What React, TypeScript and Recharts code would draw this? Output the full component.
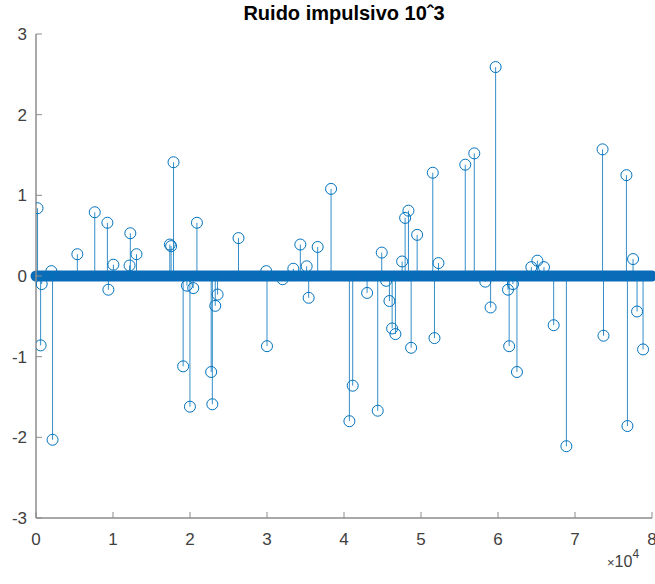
import React from "react";
import { ScatterChart, Scatter, XAxis, YAxis, ErrorBar, ReferenceLine } from "recharts";

if (typeof document !== "undefined") document.body.style.margin = "0";

// sample index of each impulse
const samplePositions = [
  200, 600, 740, 2000, 2150, 5370, 7630, 9270, 9400, 10050,
  12150, 12250, 13050, 17380, 17550, 17860, 19110, 19600, 19990, 20420,
  20900, 22750, 22900, 23280, 23580, 26300, 29900, 30000, 32030, 33420,
  34330, 35150, 35410, 36580, 38320, 40700, 41130, 43000, 44380, 44900,
  45470, 45900, 46250, 46680, 47550, 47940, 48370, 48720, 49500, 51530,
  51750, 52270, 55750, 56920, 58350, 59040, 59690, 61300, 61450, 61940,
  62460, 64330, 65110, 65970, 67230, 68880, 73580, 73700, 76680, 76810,
  77540, 78060, 78840,
];
// amplitude of each impulse
const amplitudes = [
  0.84, -0.86, -0.1, 0.06, -2.03, 0.27, 0.79, 0.66, -0.17, 0.14,
  0.13, 0.53, 0.27, 0.39, 0.37, 1.41, -1.12, -0.12, -1.62, -0.15,
  0.66, -1.19, -1.59, -0.37, -0.23, 0.47, 0.06, -0.87, -0.04, 0.09,
  0.39, 0.12, -0.27, 0.36, 1.08, -1.8, -1.36, -0.21, -1.67, 0.29,
  -0.06, -0.31, -0.65, -0.72, 0.18, 0.72, 0.81, -0.89, 0.51, 1.28,
  -0.77, 0.16, 1.38, 1.52, -0.07, -0.39, 2.59, -0.17, -0.87, -0.1,
  -1.19, 0.11, 0.19, 0.11, -0.61, -2.11, 1.57, -0.74, 1.25, -1.86,
  0.21, -0.44, -0.91,
];
const xTicks = [0, 10000, 20000, 30000, 40000, 50000, 60000, 70000, 80000];
const yTicks = [-3, -2, -1, 0, 1, 2, 3];
const titleText = "Ruido impulsivo 10ˆ3";
const exponentTimes = "×";
const exponentBase = "10";
const exponentPower = "4";

const data = samplePositions.map((n, i) => {
  const v = amplitudes[i];
  return { n, v, err: v >= 0 ? [v, 0] : [0, -v] };
});

const BLUE = "#0072BD";
const AXIS = "#8c8c8c";
const LABEL = "#404040";
const FONT = "'Liberation Sans', Arial, Helvetica, sans-serif";

const tickStyle = { fill: LABEL, fontSize: 17, fontFamily: FONT };

const Marker = (props: any) => {
  const { cx, cy } = props;
  if (cx == null || cy == null) return null;
  return <circle cx={cx} cy={cy} r={5.5} fill="none" stroke={BLUE} strokeWidth={1} />;
};

export default function App() {
  return (
    <div style={{ position: "relative", width: 655, height: 584, background: "#fff", fontFamily: FONT }}>
      <ScatterChart width={655} height={584} margin={{ top: 34, right: 3, bottom: 36, left: 0 }}>
        <XAxis
          dataKey="n"
          type="number"
          domain={[0, 80000]}
          ticks={xTicks}
          interval={0}
          allowDataOverflow
          tickFormatter={(v: number) => String(v / 10000)}
          height={30}
          tickSize={-6}
          tickMargin={21}
          axisLine={{ stroke: AXIS, strokeWidth: 1.5 }}
          tickLine={{ stroke: AXIS, strokeWidth: 1 }}
          tick={tickStyle}
        />
        <XAxis
          xAxisId="top"
          orientation="top"
          type="number"
          domain={[0, 80000]}
          ticks={xTicks}
          interval={0}
          height={0}
          tickSize={-6}
          tickFormatter={() => ""}
          axisLine={{ stroke: AXIS, strokeWidth: 1.5 }}
          tickLine={{ stroke: AXIS, strokeWidth: 1 }}
          tick={tickStyle}
        />
        <YAxis
          dataKey="v"
          type="number"
          domain={[-3, 3]}
          ticks={yTicks}
          interval={0}
          allowDataOverflow
          width={36}
          tickSize={-6}
          tickMargin={15}
          axisLine={{ stroke: AXIS, strokeWidth: 1.5 }}
          tickLine={{ stroke: AXIS, strokeWidth: 1 }}
          tick={tickStyle}
        />
        <YAxis
          yAxisId="right"
          orientation="right"
          type="number"
          domain={[-3, 3]}
          ticks={yTicks}
          interval={0}
          width={0}
          tickSize={-6}
          tickFormatter={() => ""}
          axisLine={{ stroke: AXIS, strokeWidth: 1.5 }}
          tickLine={{ stroke: AXIS, strokeWidth: 1 }}
          tick={tickStyle}
        />
        <ReferenceLine y={0} stroke="#0a6cb9" strokeWidth={11} strokeLinecap="round" />
        <Scatter data={data} isAnimationActive={false} shape={Marker}>
          <ErrorBar dataKey="err" direction="y" width={0} stroke={BLUE} strokeWidth={1} strokeOpacity={0.8} isAnimationActive={false} />
        </Scatter>
      </ScatterChart>
      <svg
        width={655}
        height={584}
        style={{ position: "absolute", left: 0, top: 0, pointerEvents: "none" }}
      >
        <text x={344} y={20} textAnchor="middle" fontSize={20} fontWeight="bold" fill="#000" fontFamily={FONT}>
          {titleText}
        </text>
        <text x={607} y={567} fill={LABEL} fontFamily={FONT}>
          <tspan fontSize={13}>{exponentTimes}</tspan>
          <tspan fontSize={16}>{exponentBase}</tspan>
          <tspan dy={-9} fontSize={12}>{exponentPower}</tspan>
        </text>
      </svg>
    </div>
  );
}
